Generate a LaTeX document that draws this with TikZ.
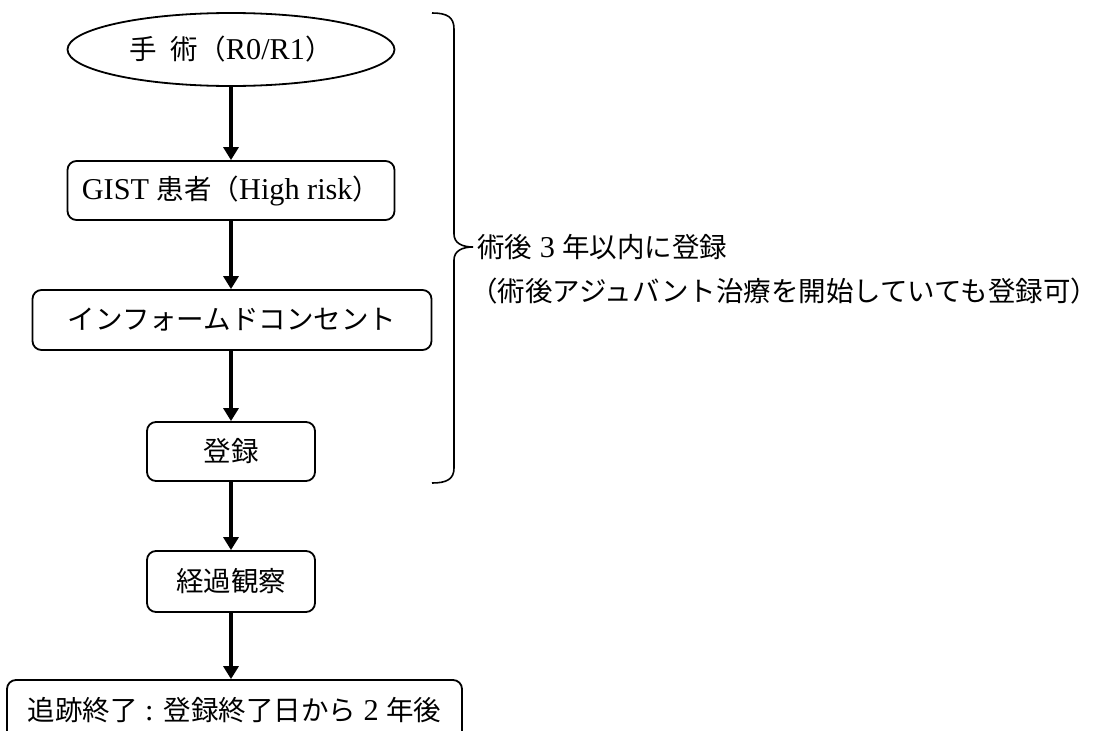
\documentclass[tikz,border=0pt]{standalone}
\usepackage{fontspec}
\setmainfont{Liberation Serif}[Scale=1.1]
\newfontfamily\cjk{Noto Sans CJK JP}
\usetikzlibrary{arrows.meta,shapes.geometric}
\begin{document}
\begin{tikzpicture}[x=1pt,y=-1pt,
  every node/.style={font=\fontsize{27.5}{32}\selectfont},
  box/.style={draw,line width=1.8pt,rounded corners=9pt,inner sep=0pt,minimum height=60pt},
  oval/.style={draw,ellipse,line width=1.8pt,inner sep=0pt,minimum width=327pt,minimum height=73pt},
  flow/.style={-{Triangle[length=13pt,width=15pt]},line width=3.4pt},
  brace/.style={line width=1.6pt},
  note/.style={anchor=west,inner sep=0pt}]
\useasboundingbox (0,0) rectangle (1112,731);
\clip (0,0) rectangle (1112,731);

\node[oval] (surg) at (231,49.5) {{\cjk 手}\hspace{14pt}{\cjk 術（}R0/R1{\cjk ）}};
\node[box,minimum width=327pt,minimum height=59pt] (gist) at (231,190.5) {GIST {\cjk 患者（}High risk{\cjk ）}};
\node[box,minimum width=399pt] (ic) at (232,320) {\cjk インフォームドコンセント};
\node[box,minimum width=168pt,minimum height=59pt] (reg) at (231,451.5) {\cjk 登録};
\node[box,minimum width=168pt,minimum height=61pt] (obs) at (231,581.5) {\cjk 経過観察};
\node[box,minimum width=455pt] (fin) at (234.5,710) {{\cjk 追跡終了} : {\cjk 登録終了日から} 2 {\cjk 年後}};

\draw[flow] (surg.south -| reg.center) -- (gist.north -| reg.center);
\draw[flow] (gist.south -| reg.center) -- (ic.north -| reg.center);
\draw[flow] (ic.south -| reg.center) -- (reg.north);
\draw[flow] (reg.south) -- (obs.north);
\draw[flow] (obs.south) -- (fin.north -| obs.south);

\coordinate (btop) at (432,13);
\coordinate (btip) at (473,247);
\coordinate (bbot) at (432,483);
\draw[brace] (btop) .. controls (447,13) and (454,17) .. (454,29)
  -- (454,234) .. controls (454,243) and (462,247) .. (btip)
  .. controls (462,247) and (454,251) .. (454,260)
  -- (454,468) .. controls (454,479) and (447,483) .. (bbot);

\node[note] (n1) at (477,247) {{\cjk 術後} 3 {\cjk 年以内に登録}};
\node[note] (n2) at (470,291) {\cjk （術後アジュバント治療を開始していても登録可）};
\end{tikzpicture}
\end{document}
